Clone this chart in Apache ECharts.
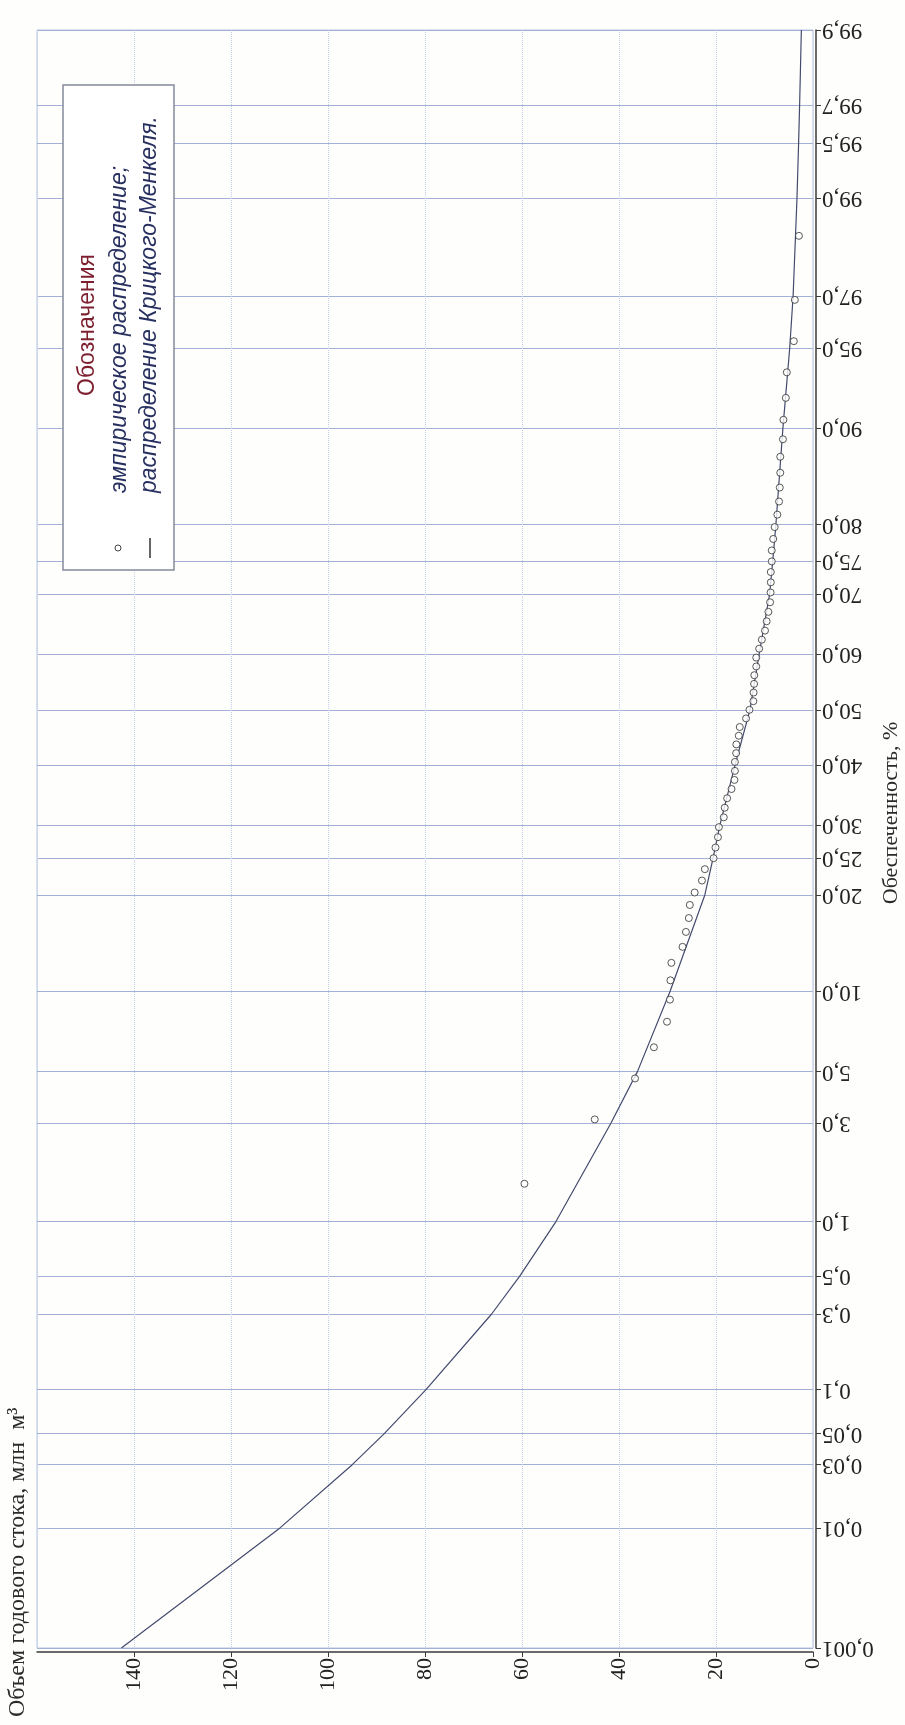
<!DOCTYPE html>
<html><head><meta charset="utf-8">
<script src="https://cdn.jsdelivr.net/npm/echarts@6/dist/echarts.min.js"></script>
<style>html,body{margin:0;padding:0;background:#fefefc;}#c{width:905px;height:1725px;}</style>
</head><body><div id="c"></div>
<script>
// ---- data ----
const probTicks = [0.001,0.01,0.03,0.05,0.1,0.3,0.5,1,3,5,10,20,25,30,40,50,60,70,75,80,90,95,97,99,99.5,99.7,99.9];
const probTickLabels = ['0,001','0,01','0,03','0,05','0,1','0,3','0,5','1,0','3,0','5,0','10,0','20,0','25,0','30,0','40,0','50,0','60,0','70,0','75,0','80,0','90,0','95,0','97,0','99,0','99,5','99,7','99,9'];
const volumeMin = 0, volumeMax = 160, volumeStep = 20;

// empirical distribution: exceedance probability, % and annual runoff volume, mln m3
const empiricalProb = [1.56,3.13,4.69,6.25,7.81,9.38,10.94,12.50,14.06,15.63,17.19,18.75,20.31,21.88,23.44,25.00,26.56,28.13,29.69,31.25,32.81,34.38,35.94,37.50,39.06,40.63,42.19,43.75,45.31,46.88,48.44,50.00,51.56,53.13,54.69,56.25,57.81,59.38,60.94,62.50,64.06,65.63,67.19,68.75,70.31,71.88,73.44,75.00,76.56,78.13,79.69,81.25,82.81,84.38,85.94,87.50,89.06,90.63,92.19,93.75,95.31,96.88,98.44];
const empiricalVolume = [59.5,45.0,36.7,32.8,30.1,29.5,29.4,29.2,26.9,26.2,25.6,25.4,24.4,22.9,22.3,20.5,20.1,19.6,19.4,18.4,18.2,17.7,16.8,16.2,16.1,16.1,15.85,15.8,15.3,15.1,13.8,13.1,12.3,12.25,12.15,12.1,11.7,11.7,11.1,10.55,9.9,9.55,9.2,8.85,8.75,8.7,8.7,8.5,8.5,8.2,7.9,7.35,7.0,6.85,6.75,6.75,6.2,6.1,5.6,5.4,3.95,3.75,2.9];

// Kritsky-Menkel distribution curve
const curveProb = [0.001,0.01,0.03,0.05,0.1,0.3,0.5,1,3,5,10,20,25,30,40,50,60,70,75,80,90,95,97,99,99.5,99.7,99.9];
const curveVolume = [142.6,109.9,95.0,88.4,79.8,66.3,60.5,53.0,41.7,36.2,29.5,22.3,20.6,19.2,16.1,13.0,11.1,8.95,8.3,7.65,6.2,4.8,4.1,3.3,2.97,2.76,2.4];

// probability-paper scale (normal quantile)
function probit(p){
  const a=[-3.969683028665376e+01,2.209460984245205e+02,-2.759285104469687e+02,1.383577518672690e+02,-3.066479806614716e+01,2.506628277459239e+00];
  const b=[-5.447609879822406e+01,1.615858368580409e+02,-1.556989798598866e+02,6.680131188771972e+01,-1.328068155288572e+01];
  const c=[-7.784894002430293e-03,-3.223964580411365e-01,-2.400758277161838e+00,-2.549732539343734e+00,4.374664141464968e+00,2.938163982698783e+00];
  const d=[7.784695709041462e-03,3.224671290700398e-01,2.445134137142996e+00,3.754408661907416e+00];
  const pl=0.02425, ph=1-pl; let q,r;
  if(p<pl){q=Math.sqrt(-2*Math.log(p));return (((((c[0]*q+c[1])*q+c[2])*q+c[3])*q+c[4])*q+c[5])/((((d[0]*q+d[1])*q+d[2])*q+d[3])*q+1);}
  if(p<=ph){q=p-0.5;r=q*q;return (((((a[0]*r+a[1])*r+a[2])*r+a[3])*r+a[4])*r+a[5])*q/(((((b[0]*r+b[1])*r+b[2])*r+b[3])*r+b[4])*r+1);}
  q=Math.sqrt(-2*Math.log(1-p));return -(((((c[0]*q+c[1])*q+c[2])*q+c[3])*q+c[4])*q+c[5])/((((d[0]*q+d[1])*q+d[2])*q+d[3])*q+1);
}
const Z = p => probit(p/100);
const zTicks = probTicks.map(Z);
const zMin = zTicks[0], zMax = zTicks[zTicks.length-1];

const empData = empiricalProb.map((p,i)=>[empiricalVolume[i], Z(p)]);
const curveData = curveProb.map((p,i)=>[curveVolume[i], Z(p)]);

const SERIF = '"Liberation Serif","Times New Roman",serif';
const SANS = '"Liberation Sans",Arial,sans-serif';
const R = Math.PI/2;

const chart = echarts.init(document.getElementById('c'), null, {renderer:'canvas'});
chart.setOption({
  backgroundColor:'#fefefc',
  animation:false,
  grid:{left:37,right:92,top:30,bottom:77,show:true,borderColor:'#b7c3e2',borderWidth:1,backgroundColor:'transparent'},
  xAxis:{
    type:'value', min:volumeMin, max:volumeMax, interval:volumeStep, inverse:true, position:'bottom', offset:4,
    axisLine:{show:true,onZero:false,lineStyle:{color:'#3a3a3a',width:1.5}},
    axisTick:{show:true,length:5,lineStyle:{color:'#3a3a3a'}},
    axisLabel:{rotate:90,margin:6,showMaxLabel:false,color:'#222',fontFamily:SERIF,fontSize:22},
    splitLine:{show:true,lineStyle:{color:'#c3cde8',type:'dotted',width:1}}
  },
  yAxis:{
    type:'value', min:zMin, max:zMax, position:'right', offset:3,
    axisLine:{show:true,onZero:false,lineStyle:{color:'#3a3a3a',width:1.5}},
    axisTick:{show:true,length:5,customValues:zTicks,lineStyle:{color:'#3a3a3a'}},
    axisLabel:{customValues:zTicks,rotate:180,align:'right',verticalAlign:'middle',margin:6,color:'#222',fontFamily:SERIF,fontSize:23,
      formatter:function(v){for(let i=0;i<zTicks.length;i++){if(Math.abs(zTicks[i]-v)<1e-6)return probTickLabels[i];}return '';}},
    splitLine:{show:true,lineStyle:{color:'#a3b1d6',width:1}}
  },
  series:[
    {name:'распределение Крицкого-Менкеля', type:'line', data:curveData, symbol:'none', smooth:false,
      lineStyle:{color:'#434a6e',width:1.2}, z:2},
    {name:'эмпирическое распределение', type:'scatter', data:empData, symbol:'circle', symbolSize:7,
      itemStyle:{color:'#ffffff',borderColor:'#2e2e2e',borderWidth:1}, z:3}
  ],
  graphic:[
    {type:'text', x:18, y:1717, rotation:R, style:{text:'Объем годового стока, млн  м³', font:'24px '+SERIF, fill:'#2a2a2a', align:'left', verticalAlign:'middle', textAlign:'left', textVerticalAlign:'middle'}},
    {type:'text', x:891, y:813, rotation:R, style:{text:'Обеспеченность, %', font:'22px '+SERIF, fill:'#2a2a2a', align:'center', verticalAlign:'middle', textAlign:'center', textVerticalAlign:'middle'}},
    {type:'rect', shape:{x:63,y:85,width:111,height:485}, style:{fill:'#ffffff',stroke:'#858a9a',lineWidth:1.5}, z:10},
    {type:'text', x:88, y:325, rotation:R, z:11, style:{text:'Обозначения', font:'23px '+SANS, fill:'#7d1f2e', align:'center', verticalAlign:'middle', textAlign:'center', textVerticalAlign:'middle'}},
    {type:'text', x:120, y:493, rotation:R, z:11, style:{text:'эмпирическое распределение;', font:'italic 23px '+SANS, fill:'#283060', align:'left', verticalAlign:'middle', textAlign:'left', textVerticalAlign:'middle'}},
    {type:'text', x:150, y:493, rotation:R, z:11, style:{text:'распределение Крицкого-Менкеля.', font:'italic 23px '+SANS, fill:'#283060', align:'left', verticalAlign:'middle', textAlign:'left', textVerticalAlign:'middle'}},
    {type:'circle', z:11, shape:{cx:118,cy:548,r:3}, style:{fill:'#fff',stroke:'#444',lineWidth:1}},
    {type:'line', z:11, shape:{x1:150,y1:538,x2:150,y2:558}, style:{stroke:'#333',lineWidth:1.5}}
  ]
});
</script></body></html>
